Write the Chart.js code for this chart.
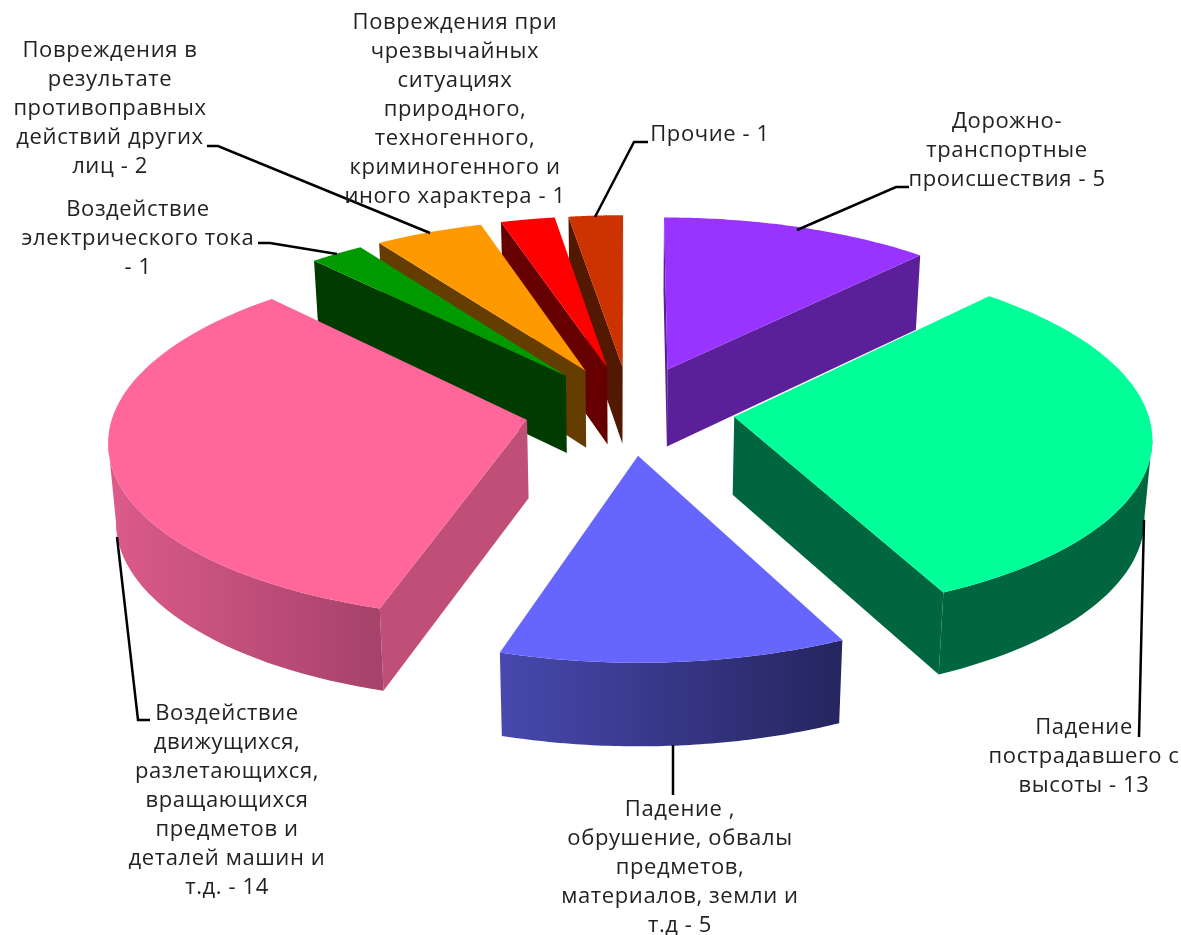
<!DOCTYPE html>
<html>
<head>
<meta charset="utf-8">
<title>Pie</title>
<script src="https://cdn.jsdelivr.net/npm/chart.js@4"></script>
<style>
  html, body { margin: 0; padding: 0; background: #fff; }
  canvas { display: block; }
</style>
</head>
<body>
<canvas id="myChart" width="1181" height="935"></canvas>
<script>
const categoryLines = [
  ['Дорожно-', 'транспортные', 'происшествия'],
  ['Падение', 'пострадавшего с', 'высоты'],
  ['Падение ,', 'обрушение, обвалы', 'предметов,', 'материалов, земли и', 'т.д'],
  ['Воздействие', 'движущихся,', 'разлетающихся,', 'вращающихся', 'предметов и', 'деталей машин и', 'т.д.'],
  ['Воздействие', 'электрического тока', ''],
  ['Повреждения в', 'результате', 'противоправных', 'действий других', 'лиц'],
  ['Повреждения при', 'чрезвычайных', 'ситуациях', 'природного,', 'техногенного,', 'криминогенного и', 'иного характера'],
  ['Прочие']
];
const values = [5, 13, 5, 14, 1, 2, 1, 1];

const topColors = ['#9933FF', '#00FF99', '#6666FF', '#FF6699', '#009900', '#FF9900', '#FF0000', '#CC3300'];
const wallLeft = ['#5B1F99', '#006640', '#4848AE', '#DC5B8A', '#003B00', '#663D00', '#660000', '#521800'];
const wallRight = ['#5B1F99', '#006640', '#25255F', '#A5426A', '#003B00', '#663D00', '#660000', '#521800'];
const wallSide = ['#5B1F99', '#006640', '#3A3A8C', '#C04F78', '#003B00', '#663D00', '#660000', '#521800'];

// label centre x, y of first line
const labelX = [1007, 1084, 680, 227, 138, 110, 455, 710];
const labelY = [122, 728, 810, 714, 210, 51, 23, 135];
const lineStep = 28.9;
// leader lines, slice edge -> elbow -> text
const leaders = [
  [[797, 230], [896, 187], [909, 187]],
  [[1144, 520], [1139, 737]],
  [[673, 745], [673, 795]],
  [[117, 537], [138, 720], [150, 720]],
  [[337, 254], [270, 243], [258, 243]],
  [[430, 233], [218, 146], [207, 146]],
  [],
  [[595, 217], [634, 142], [648, 142]]
];

const tilt = 0.425;
const persp = 0.00025;
const depth = 78;
const bottomShrink = 0.985;

function textLines(i) {
  const lines = categoryLines[i].slice();
  const last = lines.pop();
  lines.push((last ? last + ' ' : '') + '- ' + values[i]);
  return lines;
}

const pie3d = {
  id: 'pie3d',
  beforeDatasetsDraw(chart) {
    const ctx = chart.ctx;
    const arcs = chart.getDatasetMeta(0).data;
    const order = arcs.map((a, i) => i).sort((p, q) =>
      Math.sin((arcs[p].startAngle + arcs[p].endAngle) / 2) - Math.sin((arcs[q].startAngle + arcs[q].endAngle) / 2));

    order.forEach(i => {
      const a = arcs[i];
      const mid = (a.startAngle + a.endAngle) / 2;
      const off = a.options.offset / 4;
      const ox = Math.cos(mid) * off, oy = Math.sin(mid) * off;

      const top = (X, Y) => {
        const s = 1 / (1 - persp * Y);
        return { x: a.x + X * s, y: a.y + tilt * Y * s };
      };
      const bottom = (X, Y) => {
        const s = 1 / (1 - persp * Y);
        return { x: a.x + X * s * bottomShrink, y: a.y + tilt * Y * s + depth * Math.sqrt(s) };
      };

      const steps = 64;
      const rim = [];
      for (let k = 0; k <= steps; k++) {
        const t = a.startAngle + (a.endAngle - a.startAngle) * k / steps;
        rim.push([ox + a.outerRadius * Math.cos(t), oy + a.outerRadius * Math.sin(t)]);
      }
      const topRim = rim.map(p => top(p[0], p[1]));
      const botRim = rim.map(p => bottom(p[0], p[1]));
      const apexT = top(ox, oy), apexB = bottom(ox, oy);

      const poly = (pts, fill) => {
        ctx.beginPath();
        pts.forEach((p, n) => n ? ctx.lineTo(p.x, p.y) : ctx.moveTo(p.x, p.y));
        ctx.closePath();
        ctx.fillStyle = fill;
        ctx.fill();
      };

      // radial walls, only the ones turned to the viewer
      if (topRim[0].x < apexT.x) poly([apexT, topRim[0], botRim[0], apexB], wallSide[i]);
      if (apexT.x < topRim[steps].x) poly([topRim[steps], apexT, apexB, botRim[steps]], wallSide[i]);

      // outer wall
      const front = [];
      for (let k = 0; k < steps; k++) if (topRim[k + 1].x < topRim[k].x) front.push(k);
      if (front.length) {
        const from = front[0], to = front[front.length - 1] + 1;
        const pts = topRim.slice(from, to + 1).concat(botRim.slice(from, to + 1).reverse());
        const xs = pts.map(p => p.x);
        const g = ctx.createLinearGradient(Math.min(...xs), 0, Math.max(...xs), 0);
        g.addColorStop(0, wallLeft[i]);
        g.addColorStop(1, wallRight[i]);
        poly(pts, g);
      }

      poly([apexT].concat(topRim), topColors[i]);
    });
    return false;
  },
  afterDraw(chart) {
    const ctx = chart.ctx;
    ctx.save();
    ctx.strokeStyle = '#000';
    ctx.lineWidth = 2.5;
    leaders.forEach(l => {
      if (!l.length) return;
      ctx.beginPath();
      l.forEach((p, n) => n ? ctx.lineTo(p[0], p[1]) : ctx.moveTo(p[0], p[1]));
      ctx.stroke();
    });
    ctx.fillStyle = '#222';
    ctx.font = '22px "Open Sans"';
    ctx.letterSpacing = '0.6px';
    ctx.textAlign = 'center';
    ctx.textBaseline = 'middle';
    values.forEach((v, i) => {
      textLines(i).forEach((t, n) => ctx.fillText(t, labelX[i], labelY[i] + n * lineStep));
    });
    ctx.restore();
  }
};

const myChart = new Chart(document.getElementById('myChart'), {
  type: 'pie',
  data: {
    labels: categoryLines.map(l => l.join(' ').trim()),
    datasets: [{
      data: values,
      backgroundColor: topColors,
      borderWidth: 0,
      offset: 420,
      radius: 413
    }]
  },
  options: {
    responsive: false,
    animation: false,
    events: [],
    layout: { padding: { left: 79, bottom: 115 } },
    plugins: { legend: { display: false }, tooltip: { enabled: false } }
  },
  plugins: [pie3d]
});
</script>
</body>
</html>
